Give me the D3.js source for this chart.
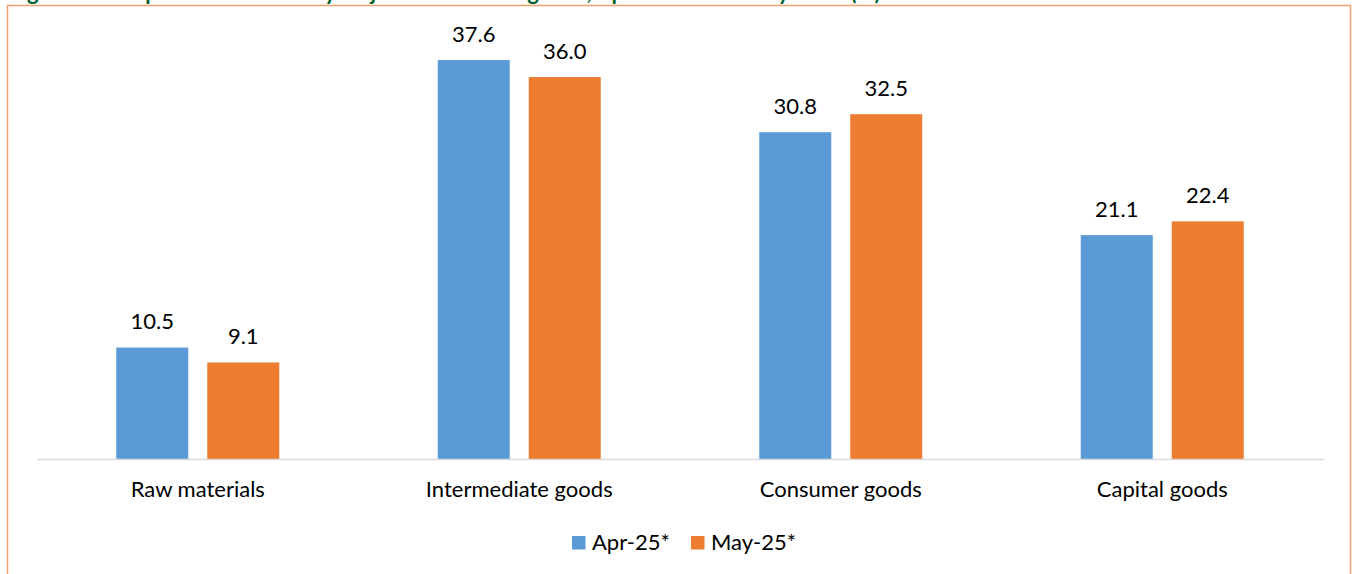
<!DOCTYPE html>
<html>
<head>
<meta charset="utf-8">
<script src="https://cdn.jsdelivr.net/npm/d3@7"></script>
<style>
  html, body { margin: 0; padding: 0; background: #ffffff; }
  svg { display: block; }
  text { font-family: Lato, "Open Sans", sans-serif; }
</style>
</head>
<body>
<svg id="chart" width="1352" height="574"></svg>
<script>
const titleText = "Figure 4: Composition of trade by major end-use categories, April 2025 and May 2025 (%)";
const categories = ["Raw materials", "Intermediate goods", "Consumer goods", "Capital goods"];
const seriesNames = ["Apr-25*", "May-25*"];
const apr25 = [10.5, 37.6, 30.8, 21.1];
const may25 = [9.1, 36.0, 32.5, 22.4];
const colors = ["#5B9BD5", "#ED7D31"];

const svg = d3.select("#chart");

// Title (cut off at top, as in the reference)
svg.append("text")
  .attr("x", 9).attr("y", -0.5)
  .attr("font-size", 22).attr("font-weight", "bold")
  .attr("fill", "#00602B")
  .text(titleText);

// Chart border
svg.append("rect")
  .attr("x", 7.5).attr("y", 5.5)
  .attr("width", 1343).attr("height", 580)
  .attr("fill", "none")
  .attr("stroke", "#F4A06E").attr("stroke-width", 1.5);

const left = 37, right = 1323, baseY = 459, topY = 34.6;
const x0 = d3.scaleBand().domain(categories).range([left, right]).padding(0);
const y = d3.scaleLinear().domain([0, 40]).range([baseY, topY]);

const barW = 72, gap = 19;
const x1 = d3.scaleOrdinal().domain([0, 1]).range([-(barW + gap / 2), gap / 2]);

const data = categories.map((c, i) => ({ cat: c, vals: [apr25[i], may25[i]] }));

const groups = svg.append("g").selectAll("g").data(data).join("g")
  .attr("transform", d => `translate(${x0(d.cat) + x0.bandwidth() / 2},0)`);

groups.selectAll("rect").data(d => d.vals.map((v, s) => ({ v, s }))).join("rect")
  .attr("x", d => x1(d.s))
  .attr("y", d => y(d.v))
  .attr("width", barW)
  .attr("height", d => y(0) - y(d.v))
  .attr("fill", d => colors[d.s]);

groups.selectAll("text.val").data(d => d.vals.map((v, s) => ({ v, s }))).join("text")
  .attr("class", "val")
  .attr("x", d => x1(d.s) + barW / 2)
  .attr("y", d => y(d.v) - 18.5)
  .attr("text-anchor", "middle")
  .attr("font-size", 22)
  .attr("fill", "#000")
  .text(d => d3.format(".1f")(d.v));

// x axis
const xAxis = svg.append("g").attr("transform", `translate(0,${baseY})`)
  .call(d3.axisBottom(x0).tickSize(0).tickPadding(22));
xAxis.select(".domain").attr("stroke", "#D9D9D9").attr("stroke-width", 1.5);
xAxis.selectAll(".tick text")
  .attr("font-size", 22)
  .attr("font-family", "Lato, sans-serif")
  .attr("fill", "#000");

// Legend
const legend = svg.append("g");
const legX = [572, 691];
seriesNames.forEach((n, i) => {
  legend.append("rect").attr("x", legX[i]).attr("y", 536).attr("width", 13.5).attr("height", 13.5).attr("fill", colors[i]);
  legend.append("text").attr("x", legX[i] + 20).attr("y", 549.5)
    .attr("font-size", 22).attr("fill", "#000").text(n);
});
</script>
</body>
</html>
